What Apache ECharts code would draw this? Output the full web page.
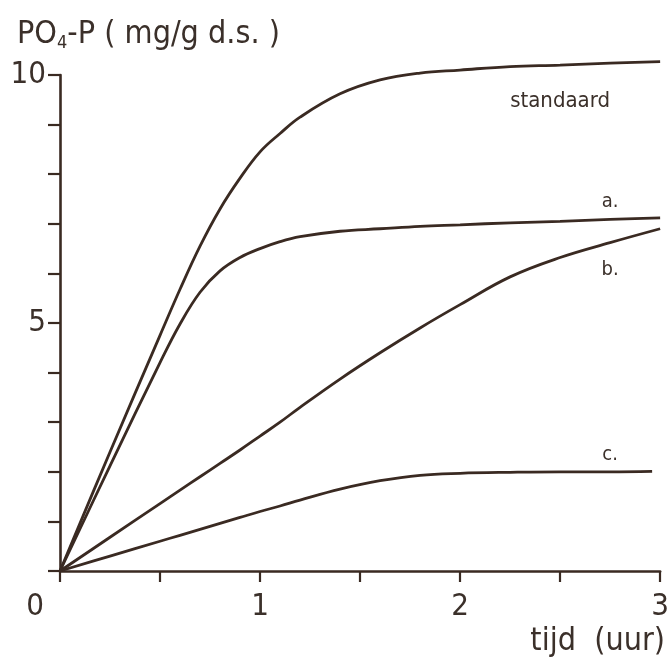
<!DOCTYPE html>
<html>
<head>
<meta charset="utf-8">
<script src="https://cdn.jsdelivr.net/npm/echarts@6/dist/echarts.min.js"></script>
<style>
  html, body { margin: 0; padding: 0; background: #ffffff; }
  #chart { width: 672px; height: 667px; }
</style>
</head>
<body>
<div id="chart"></div>
<script>
// Time points (hours)
const times  = [0, 0.25, 0.5, 0.6, 0.7, 0.8, 0.9, 1.0, 1.1, 1.2, 1.4, 1.6, 1.8, 2.0, 2.25, 2.5, 2.75, 3.0];
const timesC = [0, 0.25, 0.5, 0.6, 0.7, 0.8, 0.9, 1.0, 1.1, 1.2, 1.4, 1.6, 1.8, 2.0, 2.25, 2.5, 2.75, 2.96];

// PO4-P release (mg/g d.s.)
const standaard = [0, 2.4, 4.75, 5.68, 6.55, 7.3, 7.92, 8.45, 8.82, 9.15, 9.62, 9.9, 10.04, 10.1, 10.17, 10.2, 10.24, 10.27];
const serieA    = [0, 2.12, 4.2, 4.98, 5.62, 6.05, 6.32, 6.5, 6.64, 6.74, 6.85, 6.9, 6.95, 6.98, 7.02, 7.05, 7.09, 7.12];
const serieB    = [0, 0.68, 1.36, 1.63, 1.9, 2.17, 2.44, 2.72, 3.0, 3.3, 3.87, 4.4, 4.9, 5.37, 5.93, 6.32, 6.62, 6.9];
const serieC    = [0, 0.3, 0.6, 0.72, 0.84, 0.96, 1.08, 1.2, 1.31, 1.43, 1.65, 1.82, 1.93, 1.97, 1.99, 2.0, 2.0, 2.01];

const curveNames = ['standaard', 'a.', 'b.', 'c.'];
const xTickLabels = ['0', '1', '2', '3'];
const yTickLabels = ['5', '10'];

const ink = '#3a2a22';
const textInk = '#3b302a';
const font = '"DejaVu Sans Condensed", "DejaVu Sans", sans-serif';

// where each curve carries its name: [time index, position, distance, font size]
const labelSpots = [
  [15, 'bottom', 25, 22],
  [16, 'top', 8, 20],
  [16, 'bottom', 17, 20],
  [16, 'top', 7, 20]
];

function buildSeries(name, xs, values, spot) {
  const data = xs.map((t, i) => {
    const item = { value: [t, values[i]] };
    if (i === spot[0]) {
      item.label = {
        show: true,
        formatter: name,
        position: spot[1],
        distance: spot[2],
        color: textInk,
        fontFamily: font,
        fontSize: spot[3]
      };
    }
    return item;
  });
  return {
    name: name,
    type: 'line',
    data: data,
    smooth: 0.4,
    showSymbol: true,
    symbol: 'circle',
    symbolSize: 0,
    clip: false,
    lineStyle: { color: ink, width: 2.8 },
    itemStyle: { color: ink },
    emphasis: { disabled: true },
    label: { show: false },
    z: 3
  };
}

const chart = echarts.init(document.getElementById('chart'), null, { renderer: 'canvas' });

chart.setOption({
  backgroundColor: '#ffffff',
  animation: false,
  title: [
    {
      text: '{m|PO}{s|4}{m|-P ( mg/g d.s. )}',
      left: 12,
      top: 13,
      textStyle: {
        fontWeight: 'normal',
        rich: {
          m: { fontFamily: font, fontSize: 32, fontWeight: 'normal', color: textInk },
          s: { fontFamily: font, fontSize: 18, fontWeight: 'normal', color: textInk, padding: [16, 0, 0, 0] }
        }
      }
    },
    {
      text: 'tijd  (uur)',
      right: 2,
      top: 621,
      textStyle: { fontFamily: font, fontSize: 32, fontWeight: 'normal', color: textInk }
    }
  ],
  grid: { left: 60, top: 75, width: 602, height: 496, containLabel: false },
  xAxis: {
    type: 'value',
    min: 0,
    max: 3,
    interval: 0.5,
    axisLine: { show: true, onZero: false, lineStyle: { color: ink, width: 2.6 } },
    axisTick: { show: true, inside: false, length: 11, lineStyle: { color: ink, width: 2.2 } },
    splitLine: { show: false },
    axisLabel: {
      margin: 20,
      fontFamily: font,
      fontSize: 31,
      color: textInk,
      formatter: function (v) {
        const idx = xTickLabels.indexOf(String(v));
        if (idx < 0) return '';
        if (v === 0) return '{z|0}';
        return xTickLabels[idx];
      },
      rich: {
        z: { fontFamily: font, fontSize: 31, color: textInk, padding: [0, 50, 0, 0] }
      }
    }
  },
  yAxis: {
    type: 'value',
    min: 0,
    max: 10,
    interval: 1,
    axisLine: { show: true, onZero: false, lineStyle: { color: ink, width: 2.6 } },
    axisTick: { show: true, inside: false, length: 12, lineStyle: { color: ink, width: 2.2 } },
    splitLine: { show: false },
    axisLabel: {
      margin: 14,
      fontFamily: font,
      fontSize: 31,
      color: textInk,
      formatter: function (v) {
        return yTickLabels.indexOf(String(v)) >= 0 ? String(v) : '';
      }
    }
  },
  series: [
    buildSeries(curveNames[0], times, standaard, labelSpots[0]),
    buildSeries(curveNames[1], times, serieA, labelSpots[1]),
    buildSeries(curveNames[2], times, serieB, labelSpots[2]),
    buildSeries(curveNames[3], timesC, serieC, labelSpots[3])
  ]
});
</script>
</body>
</html>
